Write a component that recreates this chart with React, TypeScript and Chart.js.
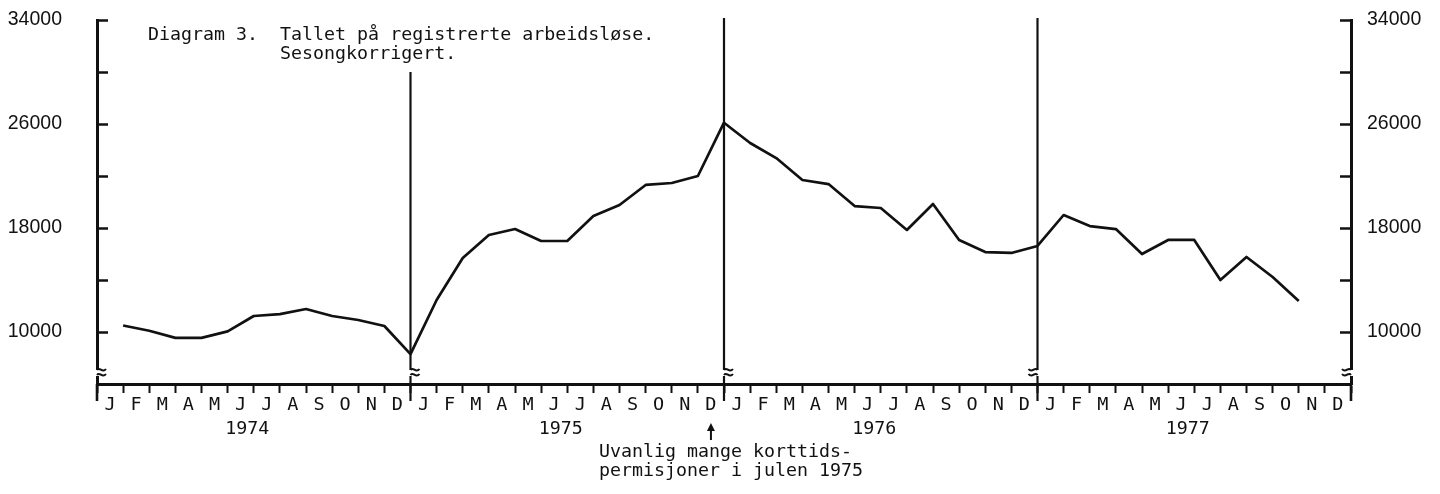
import { useEffect, useRef } from 'react';
import { Chart, registerables } from 'chart.js';

Chart.register(...registerables);

const monthLetters = ['J', 'F', 'M', 'A', 'M', 'J', 'J', 'A', 'S', 'O', 'N', 'D'];
const years = ['1974', '1975', '1976', '1977'];
const unemployed1974 = [10500, 10100, 9550, 9550, 10050, 11230, 11380, 11770, 11230, 10920, 10460, 8300];
const unemployed1975 = [12460, 15690, 17460, 17920, 17000, 17000, 18920, 19770, 21310, 21460, 22000, 26100];
const unemployed1976 = [24540, 23380, 21690, 21380, 19690, 19540, 17850, 19850, 17080, 16150, 16080, 16620];
const unemployed1977 = [19000, 18150, 17920, 16000, 17080, 17080, 14000, 15770, 14230, 12380];
const yTickValues = [10000, 14000, 18000, 22000, 26000, 30000, 34000];
const yLabelledValues = [10000, 18000, 26000, 34000];
const titleLines = ['Diagram 3.  Tallet på registrerte arbeidsløse.', '            Sesongkorrigert.'];
const noteLines = ['Uvanlig mange korttids-', 'permisjoner i julen 1975'];

const INK = '#111';
const MONO = '18.3px "DejaVu Sans Mono", monospace';

function breakMark(ctx: CanvasRenderingContext2D, x: number, yBottom: number, dir: number) {
  const y = yBottom - 15;
  ctx.save();
  ctx.fillStyle = '#fff';
  ctx.fillRect(x - 3, y + 1, 6, 6);
  ctx.strokeStyle = INK;
  ctx.lineWidth = 2;
  for (const dy of [0, 5]) {
    ctx.beginPath();
    ctx.moveTo(x, y + dy + 1);
    ctx.bezierCurveTo(x + dir * 3, y + dy - 3, x + dir * 5, y + dy + 5, x + dir * 9, y + dy);
    ctx.stroke();
  }
  ctx.restore();
}

const decorations = {
  id: 'decorations',
  afterDraw(chart: any) {
    const { ctx, chartArea, scales } = chart;
    const xs = scales.x;
    const ys = scales.y;
    const bottom = chartArea.bottom;
    ctx.save();
    ctx.strokeStyle = INK;
    ctx.lineCap = 'butt';

    // year separators
    [12, 24, 36].forEach((m) => {
      const x = xs.getPixelForValue(m);
      const top = m === 12 ? ys.getPixelForValue(30000) : ys.getPixelForValue(34000) - 2;
      ctx.lineWidth = 2.2;
      ctx.beginPath();
      ctx.moveTo(x, top);
      ctx.lineTo(x, bottom + 17);
      ctx.stroke();
    });
    // long ticks at the ends
    [0, 48].forEach((m) => {
      const x = xs.getPixelForValue(m);
      ctx.lineWidth = 2.6;
      ctx.beginPath();
      ctx.moveTo(x, bottom);
      ctx.lineTo(x, bottom + 17);
      ctx.stroke();
    });
    // axis break marks
    [0, 12, 24].forEach((m) => breakMark(ctx, xs.getPixelForValue(m), bottom, 1));
    [36, 48].forEach((m) => breakMark(ctx, xs.getPixelForValue(m), bottom, -1));

    // title
    ctx.fillStyle = INK;
    ctx.font = MONO;
    ctx.textAlign = 'left';
    ctx.textBaseline = 'alphabetic';
    const tx = chartArea.left + 51;
    ctx.fillText(titleLines[0], tx, 40);
    ctx.fillText(titleLines[1], tx, 59);

    // year labels
    ctx.textAlign = 'center';
    ctx.textBaseline = 'middle';
    years.forEach((yr, i) => {
      ctx.fillText(yr, xs.getPixelForValue(i * 12 + 5.75), bottom + 45);
    });

    // arrow + note
    const ax = xs.getPixelForValue(23.5);
    ctx.lineWidth = 2;
    ctx.beginPath();
    ctx.moveTo(ax, bottom + 45);
    ctx.lineTo(ax, bottom + 56);
    ctx.stroke();
    ctx.beginPath();
    ctx.moveTo(ax, bottom + 39);
    ctx.lineTo(ax - 4, bottom + 47);
    ctx.lineTo(ax + 4, bottom + 47);
    ctx.closePath();
    ctx.fill();
    ctx.textAlign = 'left';
    ctx.textBaseline = 'alphabetic';
    ctx.fillText(noteLines[0], ax - 112, bottom + 73);
    ctx.fillText(noteLines[1], ax - 112, bottom + 92);
    ctx.restore();
  },
};

function yAxis(position: 'left' | 'right', width: number, padding: number) {
  return {
    type: 'linear',
    position,
    min: 6000,
    max: 34000,
    afterBuildTicks: (s: any) => {
      s.ticks = yTickValues.map((v) => ({ value: v }));
    },
    afterFit: (s: any) => {
      s.width = width;
      s.paddingTop = 10;
      s.paddingBottom = 0;
    },
    ticks: {
      padding,
      color: INK,
      font: { family: '"Liberation Sans", Arial, sans-serif', size: 19.5 },
      callback: (v: any) => (yLabelledValues.includes(v) ? String(v) : ''),
    },
    grid: { drawOnChartArea: false, drawTicks: true, tickLength: -11, tickWidth: 2.5, tickColor: INK, color: INK },
    border: { display: true, width: 3, color: INK },
  };
}

export default function App() {
  const ref = useRef<HTMLCanvasElement | null>(null);

  useEffect(() => {
    document.body.style.margin = '0';
    const values = [...unemployed1974, ...unemployed1975, ...unemployed1976, ...unemployed1977];
    const points = values.map((v, i) => ({ x: i + 1, y: v }));
    const chart = new Chart(ref.current as HTMLCanvasElement, {
      type: 'line',
      data: {
        datasets: [
          {
            data: points,
            borderColor: INK,
            borderWidth: 2.7,
            pointRadius: 0,
            tension: 0,
            fill: false,
            borderJoinStyle: 'round',
          },
        ],
      },
      options: {
        animation: false,
        responsive: false,
        layout: { padding: { top: 20, left: 0, right: 0, bottom: 0 } },
        plugins: { legend: { display: false }, tooltip: { enabled: false } },
        scales: {
          x: {
            type: 'linear',
            position: 'bottom',
            min: 0,
            max: 48,
            afterBuildTicks: (s: any) => {
              s.ticks = Array.from({ length: 49 }, (_, i) => ({ value: i }));
            },
            afterFit: (s: any) => {
              s.height = 110;
              s.paddingLeft = 0;
              s.paddingRight = 0;
            },
            ticks: {
              autoSkip: false,
              maxRotation: 0,
              minRotation: 0,
              labelOffset: 13,
              padding: 1,
              color: INK,
              font: { family: '"DejaVu Sans Mono", monospace', size: 18.5 },
              callback: (v: any) => (v < 48 ? monthLetters[v % 12] : ''),
            },
            grid: { drawOnChartArea: false, drawTicks: true, tickLength: 9, tickWidth: 2, tickColor: INK, color: INK },
            border: { display: true, width: 3, color: INK },
          },
          y: yAxis('left', 97, 46),
          y2: yAxis('right', 89, 27),
        },
      },
      plugins: [decorations],
    } as any);
    return () => chart.destroy();
  }, []);

  return (
    <div style={{ position: 'absolute', left: 0, top: 0, width: 1440, height: 494, background: '#fff' }}>
      <canvas ref={ref} width={1440} height={494} />
    </div>
  );
}
